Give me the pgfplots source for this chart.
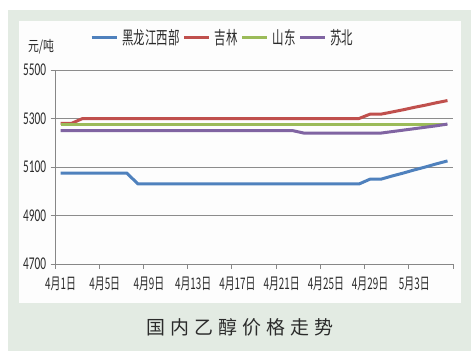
\documentclass[border=0pt]{standalone}
\usepackage{pgfplots}
\pgfplotsset{compat=1.18}
\usepackage{fontspec}
\setmainfont{Carlito}
\newfontfamily\numfont[FakeStretch=0.63]{Carlito}
\newfontfamily\cjkx[FakeStretch=0.62]{Noto Sans CJK SC}
\newfontfamily\cjkleg[FakeStretch=0.64]{Noto Sans CJK SC}
\newfontfamily\cjkunit[FakeStretch=0.75]{Noto Sans CJK SC}
\newfontfamily\cjk{Noto Sans CJK SC}
\definecolor{bgG}{HTML}{E3EBE3}
\definecolor{panel}{HTML}{FDFDFD}
\definecolor{axg}{HTML}{878787}
\definecolor{grg}{HTML}{8C8C8C}
\definecolor{cB}{HTML}{4F81BD}
\definecolor{cR}{HTML}{C0504D}
\definecolor{cG}{HTML}{9BBB59}
\definecolor{cP}{HTML}{8064A2}
\definecolor{txt}{HTML}{2B2B2B}
\begin{document}
\begin{tikzpicture}[x=1bp,y=1bp]
\path[use as bounding box] (0,0) rectangle (474,359);
\fill[bgG] (8,8) rectangle (471,349);
\fill[panel] (19,56) rectangle (461,338);
\begin{axis}[
  at={(55bp,95bp)}, anchor=south west,
  scale only axis, width=398bp, height=194bp,
  xmin=0, xmax=36, ymin=4700, ymax=5500,
  axis x line=bottom, axis y line=left,
  axis line style={-, draw=axg, line width=0.8bp},
  xtick={0,4,...,36}, xticklabels={},
  extra x ticks={0.5,4.5,...,32.5},
  extra x tick labels={4月1日,4月5日,4月9日,4月13日,4月17日,4月21日,4月25日,4月29日,5月3日},
  extra x tick style={major tick length=0pt, grid=none,
    xticklabel style={font=\cjkx\fontsize{16}{16}\selectfont, text=txt, yshift=-9bp}},
  ytick={4700,4900,...,5500},
  ymajorgrids, grid style={draw=grg, line width=0.8bp},
  tick align=outside, major tick length=4.5bp,
  tick style={draw=axg, line width=0.8bp},
  yticklabel style={font=\numfont\fontsize{18}{18}\selectfont, text=txt, xshift=-1bp},
  /pgf/number format/assume math mode=true,
  /pgf/number format/1000 sep={},
  legend style={at={(axis description cs:0.088,1.165)}, anchor=west,
    draw=none, fill=none, inner sep=0pt, nodes={inner sep=0pt},
    legend columns=-1, font=\cjkleg\fontsize{18}{18}\selectfont, text=txt,
    /tikz/every odd column/.append style={column sep=4bp},
    /tikz/every even column/.append style={column sep=3bp}},
  legend image code/.code={\draw[#1] (0bp,0bp) -- (25bp,0bp);},
  every axis plot/.append style={line width=3bp, no marks, line join=round},
  clip=false,
]
\addplot[cB] coordinates {
(0.5,5075)(1.5,5075)(2.5,5075)(3.5,5075)(4.5,5075)(5.5,5075)(6.5,5075)
(7.5,5030)(8.5,5030)(9.5,5030)(10.5,5030)(11.5,5030)(12.5,5030)(13.5,5030)
(14.5,5030)(15.5,5030)(16.5,5030)(17.5,5030)(18.5,5030)(19.5,5030)(20.5,5030)
(21.5,5030)(22.5,5030)(23.5,5030)(24.5,5030)(25.5,5030)(26.5,5030)(27.5,5030)
(28.5,5050)(29.5,5050)(30.5,5063)(31.5,5075)(32.5,5088)(33.5,5100)(34.5,5113)(35.5,5125)};
\addlegendentry{黑龙江西部}
\addplot[cR] coordinates {
(0.5,5280)(1.5,5280)(2.5,5300)(3.5,5300)(4.5,5300)(5.5,5300)(6.5,5300)
(7.5,5300)(8.5,5300)(9.5,5300)(10.5,5300)(11.5,5300)(12.5,5300)(13.5,5300)
(14.5,5300)(15.5,5300)(16.5,5300)(17.5,5300)(18.5,5300)(19.5,5300)(20.5,5300)
(21.5,5300)(22.5,5300)(23.5,5300)(24.5,5300)(25.5,5300)(26.5,5300)(27.5,5300)
(28.5,5318)(29.5,5318)(30.5,5327)(31.5,5336)(32.5,5346)(33.5,5355)(34.5,5365)(35.5,5374)};
\addlegendentry{吉林}
\addplot[cG] coordinates {
(0.5,5277)(1.5,5277)(2.5,5277)(3.5,5277)(4.5,5277)(5.5,5277)(6.5,5277)
(7.5,5277)(8.5,5277)(9.5,5277)(10.5,5277)(11.5,5277)(12.5,5277)(13.5,5277)
(14.5,5277)(15.5,5277)(16.5,5277)(17.5,5277)(18.5,5277)(19.5,5277)(20.5,5277)
(21.5,5277)(22.5,5277)(23.5,5277)(24.5,5277)(25.5,5277)(26.5,5277)(27.5,5277)
(28.5,5277)(29.5,5277)(30.5,5277)(31.5,5277)(32.5,5277)(33.5,5277)(34.5,5277)(35.5,5277)};
\addlegendentry{山东}
\addplot[cP] coordinates {
(0.5,5250)(1.5,5250)(2.5,5250)(3.5,5250)(4.5,5250)(5.5,5250)(6.5,5250)
(7.5,5250)(8.5,5250)(9.5,5250)(10.5,5250)(11.5,5250)(12.5,5250)(13.5,5250)
(14.5,5250)(15.5,5250)(16.5,5250)(17.5,5250)(18.5,5250)(19.5,5250)(20.5,5250)
(21.5,5250)(22.5,5240)(23.5,5240)(24.5,5240)(25.5,5240)(26.5,5240)(27.5,5240)
(28.5,5240)(29.5,5240)(30.5,5246)(31.5,5252)(32.5,5258)(33.5,5264)(34.5,5270)(35.5,5277)};
\addlegendentry{苏北}
\end{axis}
\node[font=\cjkunit\fontsize{14.5}{14.5}\selectfont, text=txt] at (41,312) {元/吨};
\node[font=\cjk\fontsize{19}{19}\selectfont, text=txt] at (240,31.5) {国\hspace{5bp}内\hspace{5bp}乙\hspace{5bp}醇\hspace{5bp}价\hspace{5bp}格\hspace{5bp}走\hspace{5bp}势};
\end{tikzpicture}
\end{document}
